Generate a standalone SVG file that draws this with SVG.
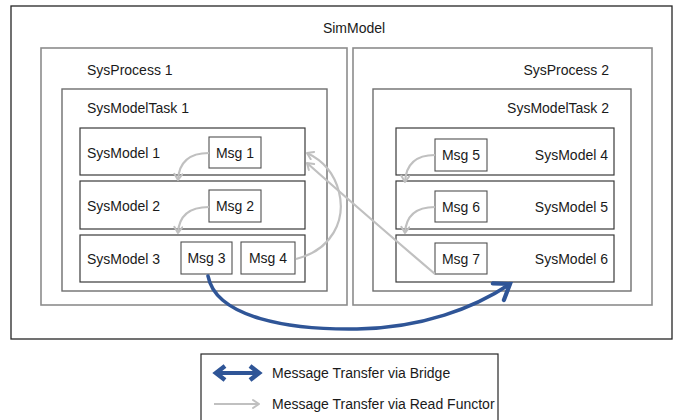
<svg xmlns="http://www.w3.org/2000/svg" width="673" height="420" viewBox="0 0 673 420">
  <style>
    text { font-family: "Liberation Sans", Arial, sans-serif; font-size: 14px; fill: #1a1a1a; }
    .mid { text-anchor: middle; }
    .end { text-anchor: end; }
    .sim { fill: #ffffff; stroke: #262626; stroke-width: 1.3; }
    .proc { fill: #ffffff; stroke: #8c8c8c; stroke-width: 1.6; }
    .task { fill: #ffffff; stroke: #6e6e6e; stroke-width: 1.4; }
    .model { fill: #ffffff; stroke: #3a3a3a; stroke-width: 1.2; }
    .msg { fill: #ffffff; stroke: #505050; stroke-width: 1.1; }
    .read { fill: none; stroke: #c0c0c0; stroke-width: 2.2; marker-end: url(#grayHead); }
    .bridge { fill: none; stroke: #2f5597; stroke-width: 3.6; stroke-linecap: round; }
  </style>
  <defs>
    <marker id="grayHead" markerUnits="userSpaceOnUse" markerWidth="14" markerHeight="14" refX="8" refY="5" orient="auto">
      <path d="M2,1 L8,5 L2,9" fill="none" stroke="#c0c0c0" stroke-width="2" stroke-linecap="round" stroke-linejoin="round"/>
    </marker>
    <marker id="blueHead" markerUnits="userSpaceOnUse" markerWidth="28" markerHeight="28" refX="17" refY="12" orient="auto">
      <path d="M3,2 L17,12 L3,22" fill="none" stroke="#2f5597" stroke-width="4.2" stroke-linecap="round" stroke-linejoin="miter"/>
    </marker>
  </defs>

  <!-- container hierarchy -->
  <g id="simModel">
    <rect class="sim" x="11" y="6" width="661" height="333"/>
    <text class="mid" x="354" y="33">SimModel</text>
  </g>
  <g id="sysProcess1">
    <rect class="proc" x="41" y="48" width="306" height="257"/>
    <text x="87" y="75">SysProcess 1</text>
  </g>
  <g id="sysProcess2">
    <rect class="proc" x="353" y="48" width="299" height="257"/>
    <text class="end" x="609" y="75">SysProcess 2</text>
  </g>
  <g id="sysModelTask1">
    <rect class="task" x="62" y="89" width="265" height="202"/>
    <text x="87" y="113">SysModelTask 1</text>
  </g>
  <g id="sysModelTask2">
    <rect class="task" x="373" y="89" width="258" height="202"/>
    <text class="end" x="609" y="113">SysModelTask 2</text>
  </g>

  <!-- models in task 1 -->
  <g id="sysModel1">
    <rect class="model" x="80" y="128" width="225" height="47"/>
    <text x="87" y="158">SysModel 1</text>
  </g>
  <g id="sysModel2">
    <rect class="model" x="80" y="181" width="225" height="48"/>
    <text x="87" y="211">SysModel 2</text>
  </g>
  <g id="sysModel3">
    <rect class="model" x="80" y="235" width="225" height="47"/>
    <text x="87" y="264">SysModel 3</text>
  </g>

  <!-- models in task 2 -->
  <g id="sysModel4">
    <rect class="model" x="396" y="128" width="218" height="47"/>
    <text class="end" x="608" y="160">SysModel 4</text>
  </g>
  <g id="sysModel5">
    <rect class="model" x="396" y="181" width="218" height="48"/>
    <text class="end" x="608" y="212">SysModel 5</text>
  </g>
  <g id="sysModel6">
    <rect class="model" x="396" y="235" width="218" height="47"/>
    <text class="end" x="608" y="264">SysModel 6</text>
  </g>

  <!-- messages -->
  <g id="msg1">
    <rect class="msg" x="209" y="137" width="52" height="31"/>
    <text class="mid" x="235" y="158">Msg 1</text>
  </g>
  <g id="msg2">
    <rect class="msg" x="209" y="190" width="52" height="32"/>
    <text class="mid" x="235" y="211">Msg 2</text>
  </g>
  <g id="msg3">
    <rect class="msg" x="181" y="242" width="51" height="32"/>
    <text class="mid" x="206.5" y="263">Msg 3</text>
  </g>
  <g id="msg4">
    <rect class="msg" x="241" y="242" width="54" height="32"/>
    <text class="mid" x="268" y="263">Msg 4</text>
  </g>
  <g id="msg5">
    <rect class="msg" x="435" y="139" width="52" height="32"/>
    <text class="mid" x="461" y="160">Msg 5</text>
  </g>
  <g id="msg6">
    <rect class="msg" x="435" y="191" width="52" height="31"/>
    <text class="mid" x="461" y="212">Msg 6</text>
  </g>
  <g id="msg7">
    <rect class="msg" x="435" y="243" width="52" height="31"/>
    <text class="mid" x="461" y="264">Msg 7</text>
  </g>

  <!-- message transfers -->
  <g id="connectors">
    <path class="read" d="M209,153 C190,153 179,162 178,180"/>
    <path class="read" d="M209,207 C190,207 179,215 178,233"/>
    <path class="read" d="M435,155 C416,155 406,164 405,182"/>
    <path class="read" d="M435,207 C416,207 406,215 405,233"/>
    <path class="read" d="M296,259 C332,250 346,220 339,192 C334,172 322,160 307,153"/>
    <path class="read" d="M435,274 Q360,210 307,163"/>
    <path class="bridge" marker-end="url(#blueHead)" d="M208,276 C216,318 290,330 357,329 C422,328 474,308 510,284"/>
  </g>

  <!-- legend -->
  <g id="legend">
    <rect x="201" y="354" width="297" height="80" fill="#ffffff" stroke="#262626" stroke-width="1.2"/>
    <path d="M219,373 L256,373" stroke="#2f5597" stroke-width="4" fill="none"/>
    <path d="M225,366 L216,373 L225,380" stroke="#2f5597" stroke-width="4.5" fill="none" stroke-linejoin="miter"/>
    <path d="M250,366 L259,373 L250,380" stroke="#2f5597" stroke-width="4.5" fill="none" stroke-linejoin="miter"/>
    <text x="272" y="378">Message Transfer via Bridge</text>
    <path d="M214,404 L258,404" stroke="#c0c0c0" stroke-width="2.2" fill="none"/>
    <path d="M253,400 L259,404 L253,408" stroke="#c0c0c0" stroke-width="2" fill="none" stroke-linecap="round" stroke-linejoin="round"/>
    <text x="272" y="409">Message Transfer via Read Functor</text>
  </g>
</svg>
